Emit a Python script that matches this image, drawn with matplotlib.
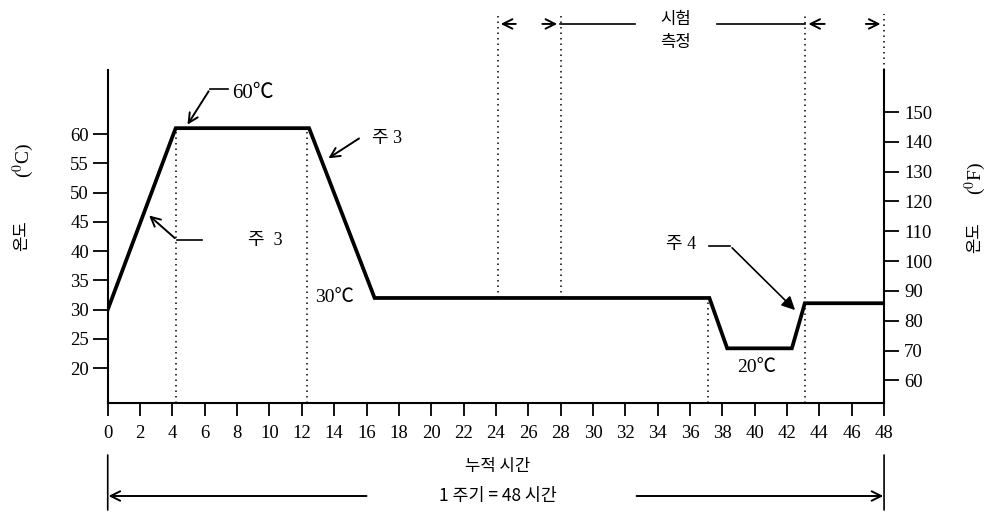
import numpy as np
import matplotlib
matplotlib.use('Agg')
import matplotlib.pyplot as plt

plt.rcParams['mathtext.fontset'] = 'stix'

# temperature profile (hours, deg C)
hours = [0, 4.2, 12.45, 16.5, 37.2, 38.3, 42.3, 43.1, 48]
temps = [30, 61, 61, 32, 32, 23.4, 23.4, 31.1, 31.1]

x_ticks = list(range(0, 49, 2))
c_ticks = list(range(20, 61, 5))
f_ticks = list(range(60, 151, 10))

# dotted guide lines: (hour, y from, y to)
guides = [(4.2, 14.06, 61), (12.35, 14.06, 61), (24.1, 32, 80.5), (28.05, 32, 80.5),
          (37.1, 14.06, 32), (43.1, 14.06, 80.5), (48, 70.9, 80.5)]

SERIF = ['Liberation Serif', 'DejaVu Serif']
KR = ['Noto Sans CJK KR', 'DejaVu Sans']
MIX = ['Liberation Serif', 'Noto Sans CJK KR', 'DejaVu Sans']

fig = plt.figure(figsize=(9.92, 5.13), dpi=100)
ax = fig.add_axes([0.1086, 0.2144, 0.7826, 0.7758])
ax.set_xlim(0, 48)
ax.set_ylim(14.06, 82.03)

ax.plot(hours, temps, color='black', lw=2.7, solid_joinstyle='miter', zorder=3)

for h, y0, y1 in guides:
    ax.plot([h, h], [y0, y1], color='black', lw=1.1, ls=(0, (1, 2.6)), clip_on=False)

for s in ['top', 'right']:
    ax.spines[s].set_visible(False)
ax.spines['left'].set_bounds(14.06, 70.9)
ax.spines['left'].set_linewidth(1.5)
ax.spines['bottom'].set_linewidth(1.5)

ax.set_xticks(x_ticks)
ax.set_yticks(c_ticks)
ax.tick_params(axis='x', direction='out', length=9.5, width=1.3, pad=6, labelsize=13.5)
ax.tick_params(axis='y', direction='out', length=10.5, width=1.3, pad=3, labelsize=13.5)
for lab in ax.get_xticklabels() + ax.get_yticklabels():
    lab.set_family(SERIF)

ax2 = ax.twinx()
ax2.set_position(ax.get_position())
ax2.set_ylim(52.4, 185.9)
for s in ['top', 'left', 'bottom']:
    ax2.spines[s].set_visible(False)
ax2.spines['right'].set_bounds(52.4, 164.1)
ax2.spines['right'].set_linewidth(1.5)
ax2.set_yticks(f_ticks)
ax2.tick_params(axis='y', direction='out', length=10.5, width=1.3, pad=4, labelsize=13.5)
for lab in ax2.get_yticklabels():
    lab.set_family(SERIF)

# annotations
arrow = dict(arrowstyle='->', color='black', lw=1.4, mutation_scale=17)
ax.annotate('60℃', xy=(7.69, 67.0), fontsize=15, family=MIX, va='center', ha='left')
ax.plot([7.45, 6.33], [67.7, 67.7], color='black', lw=1.2)
ax.annotate('', xy=(4.84, 61.2), xytext=(6.33, 67.7), arrowprops=arrow)

ax.text(9.73, 41.9, '주  3', fontsize=13, family=MIX, va='center', ha='center')
ax.plot([5.84, 4.28], [41.9, 41.9], color='black', lw=1.2)
ax.annotate('', xy=(2.43, 46.4), xytext=(4.28, 41.9), arrowprops=arrow)

ax.text(16.35, 59.3, '주 3', fontsize=13, family=MIX, va='center', ha='left')
ax.annotate('', xy=(13.5, 55.6), xytext=(15.68, 59.5), arrowprops=arrow)

ax.text(14.05, 32.0, '30℃', fontsize=14, family=MIX, va='center', ha='center')
ax.text(40.15, 20.2, '20℃', fontsize=14, family=MIX, va='center', ha='center')

ax.text(35.45, 41.2, '주 4', fontsize=13, family=MIX, va='center', ha='center')
ax.plot([37.18, 38.48], [40.9, 40.9], color='black', lw=1.2)
ax.annotate('', xy=(42.62, 29.6), xytext=(38.48, 40.9),
            arrowprops=dict(arrowstyle='-|>', color='black', lw=1.2, mutation_scale=20))

# top measurement bracket
ytop = 78.8
ax.text(35.1, 79.5, '시험', fontsize=12, family=KR, va='center', ha='center')
ax.text(35.1, 75.6, '측정', fontsize=12, family=KR, va='center', ha='center')
ax.annotate('', xy=(24.13, ytop), xytext=(25.4, ytop), arrowprops=arrow)
ax.annotate('', xy=(27.96, ytop), xytext=(26.7, ytop), arrowprops=arrow)
ax.plot([27.96, 32.6], [ytop, ytop], color='black', lw=1.2)
ax.plot([37.7, 43.1], [ytop, ytop], color='black', lw=1.2)
ax.annotate('', xy=(43.15, ytop), xytext=(44.5, ytop), arrowprops=arrow)
ax.annotate('', xy=(47.95, ytop), xytext=(46.7, ytop), arrowprops=arrow)

# axis titles
fig.text(23 / 992, 1 - 160 / 513, '($^{0}$C)', fontsize=14, family=SERIF, rotation=90,
         ha='center', va='center')
fig.text(22 / 992, 1 - 236 / 513, '온도', fontsize=12, family=KR, rotation=90,
         ha='center', va='center')
fig.text(975 / 992, 1 - 178 / 513, '($^{0}$F)', fontsize=14, family=SERIF, rotation=90,
         ha='center', va='center')
fig.text(975 / 992, 1 - 238 / 513, '온도', fontsize=12, family=KR, rotation=90,
         ha='center', va='center')

# bottom cycle bracket
fig.text(498 / 992, 1 - 466 / 513, '누적 시간', fontsize=12, family=KR, ha='center', va='center')
fig.text(498 / 992, 1 - 496 / 513, '1 주기 = 48 시간', fontsize=12.5, family=KR,
         ha='center', va='center')
yc = ('data', 'figure pixels')
for h in [0, 48]:
    ax.annotate('', xy=(h, 3), xytext=(h, 58), xycoords=yc, textcoords=yc,
                annotation_clip=False,
                arrowprops=dict(arrowstyle='-', color='black', lw=1.2, shrinkA=0, shrinkB=0))
ax.annotate('', xy=(0.05, 17), xytext=(16.0, 17), xycoords=yc, textcoords=yc,
            annotation_clip=False, arrowprops=dict(arrowstyle='->', color='black', lw=1.4,
                                                   mutation_scale=17, shrinkA=0, shrinkB=0))
ax.annotate('', xy=(47.95, 17), xytext=(32.7, 17), xycoords=yc, textcoords=yc,
            annotation_clip=False, arrowprops=dict(arrowstyle='->', color='black', lw=1.4,
                                                   mutation_scale=17, shrinkA=0, shrinkB=0))

fig.savefig('out.png', dpi=100)
